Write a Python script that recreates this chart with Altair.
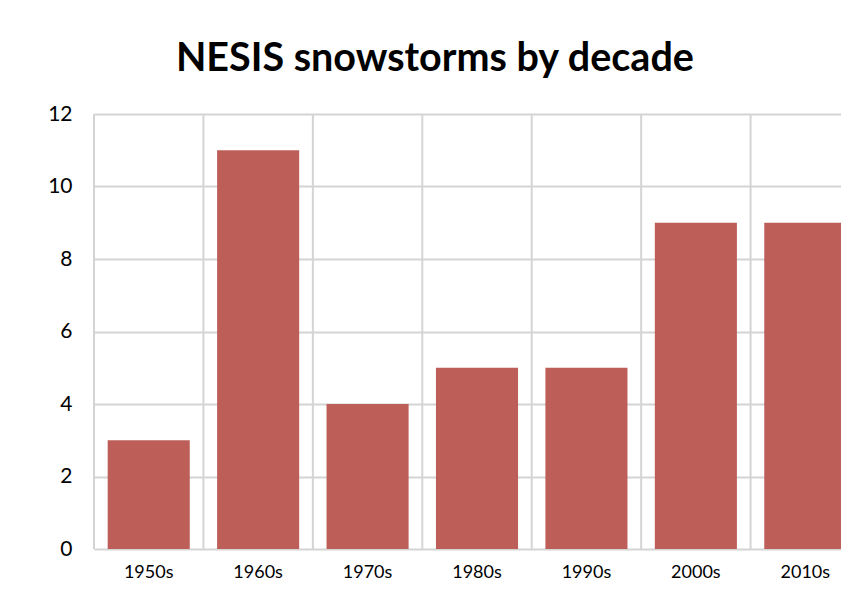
import altair as alt
import pandas as pd

decades = ["1950s", "1960s", "1970s", "1980s", "1990s", "2000s", "2010s"]
storms = [3, 11, 4, 5, 5, 9, 9]
y_ticks = [0, 2, 4, 6, 8, 10, 12]

df = pd.DataFrame({"decade": decades, "storms": storms})

GRID = "#D4D4D4"
BAR = "#BD5E58"
FONT = "Lato"

# The last category's cell runs past the right edge of the picture, as in the reference.
xscale = alt.Scale(domain=decades, range=[0, 766], paddingInner=0.25, paddingOuter=0.125)
xscale_cells = alt.Scale(domain=decades, range=[0, 766], paddingInner=0, paddingOuter=0)
yscale = alt.Scale(domain=[0, 12], nice=False)

bars = alt.Chart(df).mark_bar(color=BAR).encode(
    x=alt.X("decade:N", scale=xscale, sort=decades,
            axis=alt.Axis(title=None, labelAngle=0, ticks=False, domain=False, grid=False,
                          labelFont=FONT, labelFontSize=18, labelColor="#000000",
                          labelPadding=14)),
    y=alt.Y("storms:Q", scale=yscale,
            axis=alt.Axis(title=None, values=y_ticks, grid=True, gridColor=GRID, gridWidth=2,
                          ticks=False, domain=False, labelFont=FONT, labelFontSize=21,
                          labelColor="#000000", labelPadding=22)),
)

vlines = alt.Chart(df).mark_rule(color=GRID, strokeWidth=2).encode(
    x=alt.X("decade:N", scale=xscale_cells, sort=decades, bandPosition=0, axis=None),
    y=alt.datum(0),
    y2=alt.datum(12),
)

chart = alt.layer(vlines, bars).resolve_scale(x="independent").properties(
    width=747,
    height=435,
    autosize=alt.AutoSizeParams(type="none"),
    padding={"left": 86, "top": 106, "right": 0, "bottom": 34},
    title=alt.TitleParams("NESIS snowstorms by decade", font=FONT, fontSize=39.5,
                          fontWeight="bold", color="black", anchor="middle", dx=-32.6,
                          frame="group", baseline="alphabetic", offset=-7),
).configure_view(stroke=None).configure(background="white")

chart.save("out.html", embed_options={"renderer": "svg", "actions": False})
